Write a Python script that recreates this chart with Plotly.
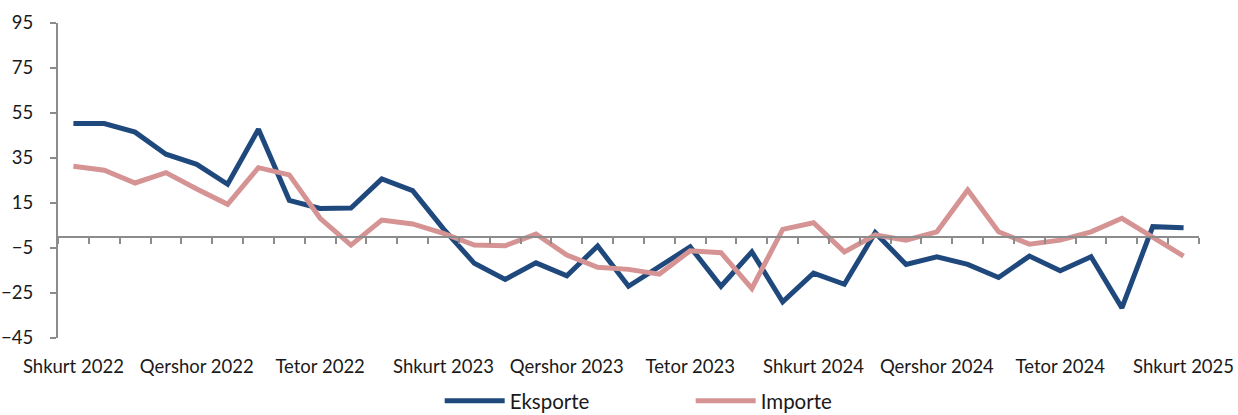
import plotly.graph_objects as go

month_names = ["Janar", "Shkurt", "Mars", "Prill", "Maj", "Qershor", "Korrik", "Gusht",
               "Shtator", "Tetor", "Nëntor", "Dhjetor"]

# 37 monthly categories: Shkurt 2022 ... Shkurt 2025
categories = [f"{month_names[(1 + k) % 12]} {2022 + (1 + k) // 12}" for k in range(37)]

eksporte = [50.3, 50.3, 46.5, 36.7, 32.2, 23.3, 47.8, 16.2, 12.6, 12.8, 25.7, 20.5,
            3.5, -11.8, -19.0, -11.6, -17.4, -4.1, -22.0, -13.5, -4.5, -22.0, -6.7,
            -28.9, -16.2, -21.1, 1.8, -12.3, -8.9, -12.3, -18.1, -8.6, -15.1, -8.9,
            -31.6, 4.5, 4.0]

importe = [31.3, 29.6, 23.9, 28.5, 21.2, 14.4, 30.7, 27.5, 8.2, -3.7, 7.4, 5.7,
           1.5, -3.7, -4.0, 1.2, -8.1, -13.6, -14.5, -16.6, -6.2, -7.1, -23.0,
           3.3, 6.2, -6.7, 0.8, -1.5, 2.2, 20.8, 2.2, -3.3, -1.5, 2.2, 8.2, 0.0, -8.6]

label_ticks = categories[::4]
y_ticks = [95, 75, 55, 35, 15, -5, -25, -45]

BLUE = "#1F497D"
PINK = "#D59393"
AXIS = "#8C8C8C"
FONT = "Lato"
TXT = "#1a1a1a"

fig = go.Figure()
fig.add_trace(go.Scatter(x=categories, y=eksporte, name="Eksporte", mode="lines",
                         line=dict(color=BLUE, width=5), xaxis="x", yaxis="y"))
fig.add_trace(go.Scatter(x=categories, y=importe, name="Importe", mode="lines",
                         line=dict(color=PINK, width=5), xaxis="x", yaxis="y"))
# invisible helper trace so the label axis is drawn
fig.add_trace(go.Scatter(x=categories, y=importe, mode="lines", opacity=0,
                         line=dict(width=0), showlegend=False, hoverinfo="skip",
                         xaxis="x2", yaxis="y"))

ymin, ymax = -45, 95
fig.update_layout(
    width=1238, height=415,
    margin=dict(l=58, r=39, t=23, b=77, autoexpand=False),
    plot_bgcolor="white", paper_bgcolor="white",
    font=dict(family=FONT, size=18.5, color=TXT),
    xaxis=dict(
        type="category", categoryorder="array", categoryarray=categories,
        anchor="free", position=(0 - ymin) / (ymax - ymin),
        showline=True, linecolor=AXIS, linewidth=2,
        ticks="outside", ticklen=6, tickcolor=AXIS, tickwidth=2,
        tickson="boundaries", showticklabels=False, showgrid=False, zeroline=False,
        range=[-0.5, len(categories) - 0.5], automargin=False,
    ),
    xaxis2=dict(
        type="category", categoryorder="array", categoryarray=categories,
        overlaying="x", matches="x", anchor="y", side="bottom",
        showline=False, ticks="", showgrid=False, zeroline=False,
        tickmode="array", tickvals=label_ticks, ticktext=label_ticks,
        tickangle=0, ticklabelstandoff=15, automargin=False,
        tickfont=dict(family=FONT, size=18.5, color=TXT),
    ),
    yaxis=dict(
        range=[ymin, ymax], tickmode="array", tickvals=y_ticks,
        showline=True, linecolor=AXIS, linewidth=2,
        ticks="outside", ticklen=6, tickcolor=AXIS, tickwidth=2,
        showgrid=False, zeroline=False, ticklabelstandoff=13, automargin=False,
        tickfont=dict(family=FONT, size=18.5, color=TXT),
    ),
    legend=dict(orientation="h", x=0.5545, xanchor="center", y=-0.2, yanchor="middle",
                font=dict(family=FONT, size=20.5, color=TXT),
                entrywidth=176, itemwidth=60, bgcolor="rgba(0,0,0,0)"),
    showlegend=True,
)

fig.write_html(
    "out.html",
    config={"displayModeBar": False},
    post_script="document.body.style.margin='0';document.body.style.overflow='hidden';",
)
